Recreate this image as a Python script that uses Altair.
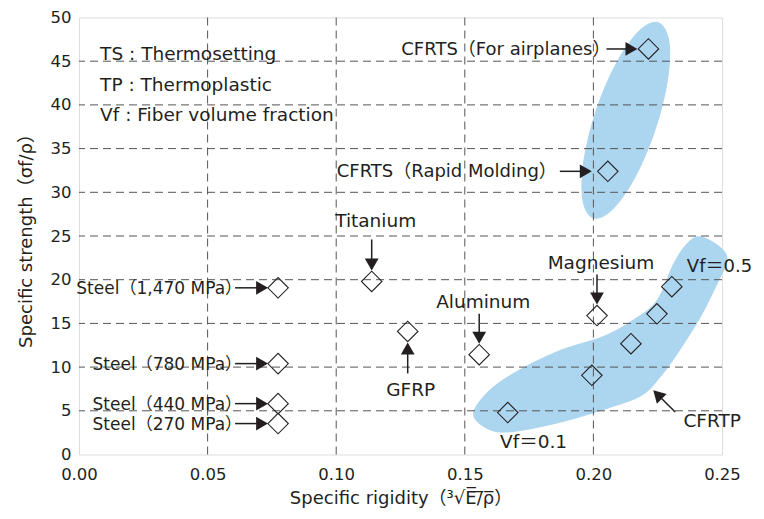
import altair as alt
import pandas as pd

# ---------------- data ----------------
steel_names = ["Steel（1,470 MPa）", "Steel（780 MPa）", "Steel（440 MPa）", "Steel（270 MPa）"]
steel_x = [0.0774, 0.0774, 0.0774, 0.0774]
steel_y = [19.07, 10.4, 5.82, 3.54]

titanium_x = [0.1138]
titanium_y = [19.8]

metal_names = ["Aluminum", "Magnesium"]
metal_x = [0.1556, 0.2014]
metal_y = [11.42, 15.9]

gfrp_x = [0.1278]
gfrp_y = [14.08]

rapid_names = ["CFRTS（Rapid Molding）"]
rapid_x = [0.2056]
rapid_y = [32.4]

air_names = ["CFRTS（For airplanes）"]
air_x = [0.2214]
air_y = [46.4]

cfrtp_x = [0.1667, 0.1994, 0.2146, 0.2247, 0.2305]
cfrtp_y = [4.8, 9.06, 12.68, 16.1, 19.2]

# outline of the CFRTS region (points read around the blue oval)
cfrts_zone_x = [0.2252, 0.2293, 0.2288, 0.2240, 0.2161, 0.2073, 0.1999, 0.1959, 0.1963, 0.2011, 0.2090, 0.2178]
cfrts_zone_y = [49.40, 47.34, 42.85, 37.17, 31.68, 28.02, 27.08, 29.13, 33.62, 39.36, 44.79, 48.46]

# outline of the CFRTP region
cfrtp_zone_x = [0.1534, 0.1586, 0.1676, 0.1871, 0.2065, 0.2189, 0.2260, 0.2325, 0.2415, 0.2480,
                0.2519, 0.2493, 0.2415, 0.2364, 0.2312, 0.2247, 0.2156, 0.2039, 0.1871, 0.1715, 0.1599]
cfrtp_zone_y = [4.7, 3.0, 2.6, 3.7, 5.4, 6.8, 8.9, 11.5, 15.7, 19.5,
                22.2, 23.7, 24.9, 24.1, 21.8, 17.6, 15.4, 13.5, 11.9, 9.7, 7.4]

notes_text = ["TS : Thermosetting", "TP : Thermoplastic", "Vf : Fiber volume fraction"]
notes_x = [0.0082, 0.0082, 0.0082]
notes_y = [45.15, 41.6, 38.2]

region_text = ["Vf＝0.1", "CFRTP"]
region_x = [0.1637, 0.2350]
region_y = [0.69, 3.15]

vf05_text = ["Vf＝0.5"]
vf05_x = [0.2520]
vf05_y = [20.85]

cfrtp_arrow_tail = (0.2318, 4.87)
cfrtp_arrow_tip = (0.2233, 7.34)

x_ticks = [0.0, 0.05, 0.10, 0.15, 0.20, 0.25]
y_ticks = [0, 5, 10, 15, 20, 25, 30, 35, 40, 45, 50]

# ---------------- style ----------------
FONT = "DejaVu Sans, Noto Sans CJK JP"
INK = "#231f20"
BLUE = "#acd5ef"
GRID = "#555555"
FS = 18.5           # annotation labels
FS_STEEL = 17
FS_CFRTS = 18
FS_NOTE = 18.5
FS_TICK = 16.5
FS_TITLE = 18
HEAD = 190          # arrowhead symbol size
H = 6               # half-length of arrowhead (px)

xs = alt.Scale(domain=[0, 0.25], nice=False, zero=False)
ys = alt.Scale(domain=[0, 50], nice=False, zero=False)

X = alt.X("x:Q", scale=xs, axis=alt.Axis(
    values=x_ticks, format=".2f", grid=False, ticks=False, domain=False,
    labelFont=FONT, labelFontSize=FS_TICK, labelColor=INK, labelPadding=12, labelFlush=False,
    title="Specific rigidity（³√E\u0305/\u0305ρ\u0305）", titleFont=FONT, titleFontSize=FS_TITLE,
    titleFontWeight="normal", titleColor=INK, titlePadding=6))
Y = alt.Y("y:Q", scale=ys, axis=alt.Axis(
    values=y_ticks, format="d", grid=False, ticks=False, domain=False,
    labelFont=FONT, labelFontSize=FS_TICK, labelColor=INK, labelPadding=8, labelFlush=False,
    title="Specific strength（σf/ρ）", titleFont=FONT, titleFontSize=FS_TITLE,
    titleFontWeight="normal", titleColor=INK, titlePadding=15))


def df(xv, yv, names=None):
    d = pd.DataFrame({"x": xv, "y": yv})
    if names is not None:
        d["label"] = names
    return d


def zone(xv, yv):
    d = pd.DataFrame({"x": xv, "y": yv, "i": list(range(len(xv)))})
    return alt.Chart(d).mark_line(
        interpolate="cardinal-closed", fill=BLUE, color=BLUE, strokeWidth=1, clip=False
    ).encode(x=X, y=Y, order=alt.Order("i:Q"))


def left_arrow(d, tip, tail, text_end, fs):
    base = alt.Chart(d)
    rule = base.mark_rule(color=INK, strokeWidth=1.5, xOffset=tail, x2Offset=tip - H).encode(
        x=X, x2="x:Q", y=Y)
    head = base.mark_point(shape="triangle-right", size=HEAD, filled=True, color=INK, opacity=1,
                           xOffset=tip - H).encode(x=X, y=Y)
    text = base.mark_text(align="right", baseline="middle", font=FONT, fontSize=fs, color=INK,
                          xOffset=text_end, dy=1).encode(x=X, y=Y, text="label:N")
    return rule + head + text


def down_arrow(d, tip, tail, text_base):
    base = alt.Chart(d)
    rule = base.mark_rule(color=INK, strokeWidth=1.5, yOffset=tail, y2Offset=tip - H).encode(
        x=X, y=Y, y2="y:Q")
    head = base.mark_point(shape="triangle-down", size=HEAD, filled=True, color=INK, opacity=1,
                           yOffset=tip - H).encode(x=X, y=Y)
    text = base.mark_text(align="center", baseline="alphabetic", font=FONT, fontSize=FS, color=INK,
                          yOffset=text_base, xOffset=4).encode(x=X, y=Y, text="label:N")
    return rule + head + text


def up_arrow(d, tip, tail, text_base):
    base = alt.Chart(d)
    rule = base.mark_rule(color=INK, strokeWidth=1.5, yOffset=tail, y2Offset=tip + H).encode(
        x=X, y=Y, y2="y:Q")
    head = base.mark_point(shape="triangle-up", size=HEAD, filled=True, color=INK, opacity=1,
                           yOffset=tip + H).encode(x=X, y=Y)
    text = base.mark_text(align="center", baseline="alphabetic", font=FONT, fontSize=FS, color=INK,
                          yOffset=text_base, xOffset=3).encode(x=X, y=Y, text="label:N")
    return rule + head + text


# gridlines (interior only, so the dark frame stays solid)
vgrid = alt.Chart(pd.DataFrame({"x": x_ticks[1:-1]})).mark_rule(
    color=GRID, strokeWidth=1, strokeDash=[8, 5]).encode(x=X)
hgrid = alt.Chart(pd.DataFrame({"y": y_ticks[1:-1]})).mark_rule(
    color=GRID, strokeWidth=1, strokeDash=[8, 5]).encode(y=Y)

all_x = steel_x + titanium_x + metal_x + gfrp_x + rapid_x + air_x + cfrtp_x
all_y = steel_y + titanium_y + metal_y + gfrp_y + rapid_y + air_y + cfrtp_y
diamonds = alt.Chart(df(all_x, all_y)).mark_point(
    shape="diamond", size=420, filled=False, color=INK, strokeWidth=1.1, opacity=1
).encode(x=X, y=Y)

notes = alt.Chart(df(notes_x, notes_y, notes_text)).mark_text(
    align="left", baseline="alphabetic", font=FONT, fontSize=FS_NOTE, color=INK
).encode(x=X, y=Y, text="label:N")

regions = alt.Chart(df(region_x, region_y, region_text)).mark_text(
    align="left", baseline="alphabetic", font=FONT, fontSize=FS, color=INK
).encode(x=X, y=Y, text="label:N")

vf05 = alt.Chart(df(vf05_x, vf05_y, vf05_text)).mark_text(
    align="right", baseline="alphabetic", font=FONT, fontSize=18, color=INK, xOffset=25
).encode(x=X, y=Y, text="label:N")

arr = pd.DataFrame({"x": [cfrtp_arrow_tail[0]], "y": [cfrtp_arrow_tail[1]],
                    "x2": [cfrtp_arrow_tip[0]], "y2": [cfrtp_arrow_tip[1]]})
diag_rule = alt.Chart(arr).mark_rule(color=INK, strokeWidth=1.5, x2Offset=4.2, y2Offset=4.2).encode(
    x=X, y=Y, x2="x2:Q", y2="y2:Q")
diag_head = alt.Chart(pd.DataFrame({"x": [cfrtp_arrow_tip[0]], "y": [cfrtp_arrow_tip[1]]})).mark_point(
    shape="triangle-up", size=HEAD, filled=True, color=INK, opacity=1, angle=315,
    xOffset=4.2, yOffset=4.2).encode(x=X, y=Y)

chart = alt.layer(
    zone(cfrts_zone_x, cfrts_zone_y),
    zone(cfrtp_zone_x, cfrtp_zone_y),
    vgrid, hgrid,
    diamonds,
    left_arrow(df(steel_x, steel_y, steel_names), tip=-10, tail=-43, text_end=-36, fs=FS_STEEL),
    left_arrow(df(air_x, air_y, air_names), tip=-11, tail=-42, text_end=-38, fs=FS_CFRTS),
    left_arrow(df(rapid_x, rapid_y, rapid_names), tip=-16, tail=-48, text_end=-51, fs=FS_CFRTS),
    down_arrow(df(titanium_x, titanium_y, ["Titanium"]), tip=-11, tail=-42, text_base=-54),
    down_arrow(df(metal_x, metal_y, metal_names), tip=-11, tail=-41, text_base=-47),
    up_arrow(df(gfrp_x, gfrp_y, ["GFRP"]), tip=11, tail=42, text_base=65),
    diag_rule, diag_head,
    notes, regions, vf05,
).properties(
    width=643, height=437,
    padding={"left": 71, "top": 9.5, "right": 34, "bottom": 56.5},
    autosize="none",
).configure_view(stroke=INK, strokeWidth=1.5).configure(background="white")

chart.save("out.html", embed_options={"renderer": "svg", "actions": False})
